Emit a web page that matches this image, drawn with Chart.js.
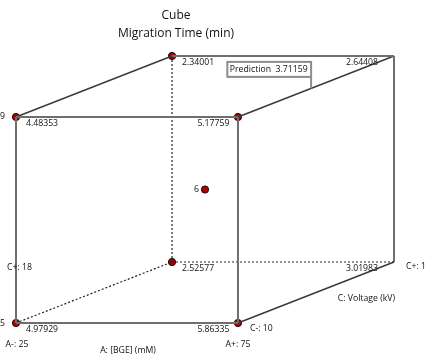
<!DOCTYPE html>
<html>
<head>
<meta charset="utf-8">
<script src="https://cdn.jsdelivr.net/npm/chart.js@4/dist/chart.umd.min.js"></script>
<style>
  html, body { margin: 0; padding: 0; background: #fff; }
  canvas { display: block; }
</style>
</head>
<body>
<canvas id="cubo" width="425" height="356"></canvas>
<script>
// Níveis dos fatores (baixo / alto)
const nivelA = [25, 75];   // A: [BGE] (mM)
const nivelB = [5, 9];     // B
const nivelC = [10, 18];   // C: Voltage (kV)

// Vértices do cubo em unidades codificadas, ordem A, B, C
const cantoA = [-1, 1, -1, 1, -1, 1, -1, 1];
const cantoB = [-1, -1, 1, 1, -1, -1, 1, 1];
const cantoC = [-1, -1, -1, -1, 1, 1, 1, 1];
const tempoMigracao = [4.97929, 5.86335, 4.48353, 5.17759, 2.52577, 3.01983, 2.34001, 2.64408];
const temPonto = [true, true, true, true, true, false, true, false];

// Ponto central (nº de réplicas) e predição
const replicasCentro = 6;
const predicao = 3.71159;
const predicaoA = 75, predicaoB = 9, predicaoC = 13.75;

// Arestas: [vértice, vértice, tracejada?]
const arestas = [
    [0, 1, false], [2, 3, false], [0, 2, false], [1, 3, false],
    [4, 5, true], [6, 7, false], [4, 6, true], [5, 7, false],
    [0, 4, true], [1, 5, false], [2, 6, false], [3, 7, false]
];

// Perspectiva (deslocamento da face de trás)
const PROF_X = 0.703;
const PROF_Y = 0.296;

function codificar(valor, niveis) {
    return (valor - niveis[0]) / (niveis[1] - niveis[0]) * 2 - 1;
}

function projetar(a, b, c) {
    const uc = (c + 1) / 2;
    return { x: (a + 1) / 2 + PROF_X * uc, y: (b + 1) / 2 + PROF_Y * uc };
}

const datasets = arestas.map(function (ar) {
    const p = ar[0], q = ar[1];
    return {
        data: [projetar(cantoA[p], cantoB[p], cantoC[p]), projetar(cantoA[q], cantoB[q], cantoC[q])],
        showLine: true,
        pointRadius: 0,
        borderColor: ar[2] ? '#222' : (cantoC[p] !== cantoC[q] ? '#3a3a3a' : '#6e6e6e'),
        borderWidth: ar[2] ? 1.2 : (cantoC[p] !== cantoC[q] ? 1.4 : 2),
        borderDash: ar[2] ? [2, 2] : [],
        clip: false
    };
});

const pontos = [];
for (let i = 0; i < 8; i++) {
    if (temPonto[i]) pontos.push(projetar(cantoA[i], cantoB[i], cantoC[i]));
}
pontos.push(projetar(0, 0, 0));

datasets.push({
    data: pontos,
    showLine: false,
    pointRadius: 3.6,
    pointBackgroundColor: '#b00000',
    pointBorderColor: '#1a0000',
    pointBorderWidth: 1,
    clip: false
});

const FONTE = '"Open Sans", "Segoe UI", sans-serif';

function texto(ctx, t, x, y, alinhar) {
    ctx.textAlign = alinhar || 'left';
    ctx.fillText(t, x, y);
}

// Rótulos do cubo
const rotulos = {
    id: 'rotulos',
    afterDatasetsDraw: function (chart) {
        const ctx = chart.ctx;
        const sx = chart.scales.x, sy = chart.scales.y;
        function px(a, b, c) {
            const p = projetar(a, b, c);
            return { x: sx.getPixelForValue(p.x), y: sy.getPixelForValue(p.y) };
        }
        ctx.save();
        ctx.fillStyle = '#111';
        ctx.textBaseline = 'middle';

        // título
        ctx.font = '12px ' + FONTE;
        texto(ctx, 'Cube', 176, 16, 'center');
        texto(ctx, 'Migration Time (min)', 176, 34, 'center');

        // valores nos vértices
        ctx.font = '8.7px ' + FONTE;
        for (let i = 0; i < 8; i++) {
            const v = px(cantoA[i], cantoB[i], cantoC[i]);
            if (cantoA[i] < 0) {
                texto(ctx, String(tempoMigracao[i]), v.x + 10, v.y + 6.5, 'left');
            } else {
                texto(ctx, String(tempoMigracao[i]), v.x - (cantoC[i] > 0 ? 16 : 8.5), v.y + 6.5, 'right');
            }
        }

        // ponto central
        const centro = px(0, 0, 0);
        texto(ctx, String(replicasCentro), centro.x - 6, centro.y, 'right');

        // níveis dos fatores
        const f00 = px(-1, -1, -1), f10 = px(1, -1, -1), f01 = px(-1, 1, -1);
        const t10 = px(1, -1, 1), t00 = px(-1, -1, 1);
        texto(ctx, 'A-: ' + nivelA[0], f00.x + 1, f00.y + 22, 'center');
        texto(ctx, 'A+: ' + nivelA[1], f10.x, f10.y + 22, 'center');
        texto(ctx, 'A: [BGE] (mM)', (f00.x + f10.x) / 2 + 1, f00.y + 28, 'center');
        texto(ctx, 'B-: ' + nivelB[0], f00.x - 11, f00.y + 1, 'right');
        texto(ctx, 'B+: ' + nivelB[1], f01.x - 11, f01.y, 'right');
        texto(ctx, 'C-: ' + nivelC[0], f10.x + 12, f10.y + 6, 'left');
        texto(ctx, 'C+: ' + nivelC[1], t10.x + 12, t10.y + 5, 'left');
        texto(ctx, 'C+: ' + nivelC[1], f00.x - 9, t00.y + 6, 'left');
        texto(ctx, 'C: Voltage (kV)', t10.x + 1, t10.y + 37, 'right');

        // caixa da predição
        const pr = px(codificar(predicaoA, nivelA), codificar(predicaoB, nivelB), codificar(predicaoC, nivelC));
        const rotPred = 'Prediction  ' + predicao;
        const larg = ctx.measureText(rotPred).width + 6;
        const base = pr.y - 11.5;
        ctx.strokeStyle = '#8c8c8c';
        ctx.lineWidth = 2;
        ctx.fillStyle = '#fff';
        ctx.fillRect(pr.x - larg, base - 15, larg, 15);
        ctx.strokeRect(pr.x - larg, base - 15, larg, 15);
        ctx.beginPath();
        ctx.moveTo(pr.x, base);
        ctx.lineTo(pr.x, pr.y);
        ctx.stroke();
        ctx.fillStyle = '#111';
        texto(ctx, rotPred, pr.x - larg + 2.5, base - 7.5, 'left');
        ctx.restore();
    }
};

new Chart(document.getElementById('cubo'), {
    type: 'scatter',
    data: { datasets: datasets },
    options: {
        responsive: false,
        devicePixelRatio: 1,
        animation: false,
        layout: { padding: { left: 16, right: 31, top: 56, bottom: 33 } },
        scales: {
            x: { type: 'linear', min: 0, max: 1 + PROF_X, display: false },
            y: { type: 'linear', min: 0, max: 1 + PROF_Y, display: false }
        },
        plugins: {
            legend: { display: false },
            tooltip: { enabled: false }
        }
    },
    plugins: [rotulos]
});
</script>
</body>
</html>
